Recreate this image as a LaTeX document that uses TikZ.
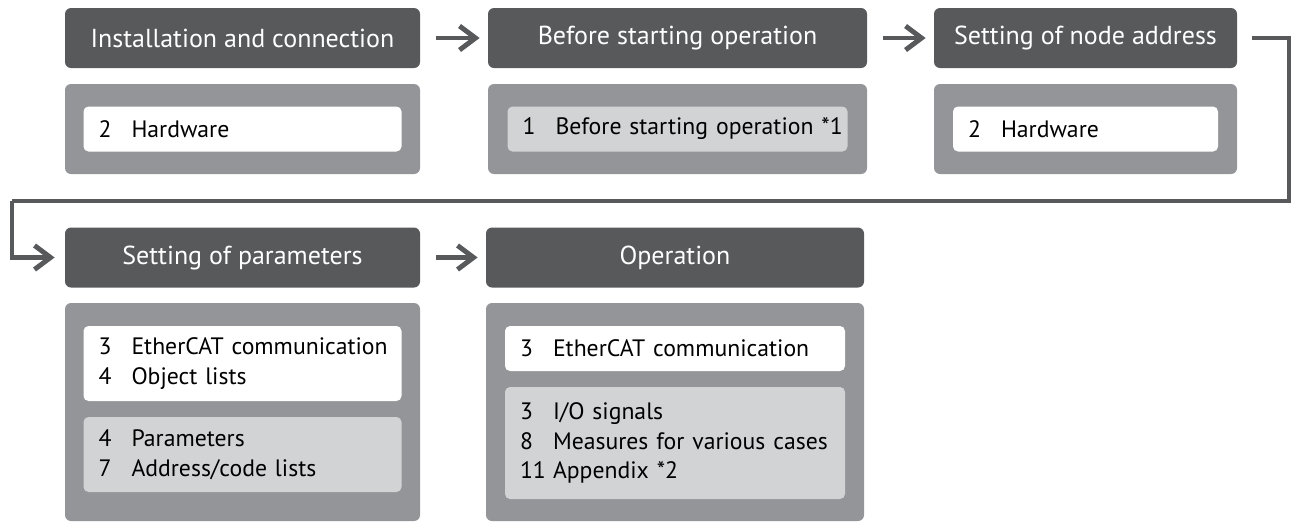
\documentclass[tikz,border=0pt]{standalone}
\usepackage{fontspec}
\setmainfont{PT Sans}
\usetikzlibrary{arrows.meta,positioning}
\definecolor{headgray}{HTML}{58595B}
\definecolor{boxgray}{HTML}{939598}
\definecolor{palegray}{HTML}{D1D3D4}
\tikzset{>/.tip={Straight Barb[length=3.2mm,width=4.8mm]}}
\tikzset{head/.style={fill=headgray,text=white,rounded corners=1.2mm,minimum height=1.2cm,font=\fontsize{14.8}{17}\selectfont}}
\tikzset{panel/.style={fill=boxgray,rounded corners=1.2mm}}
\tikzset{item/.style={rounded corners=1mm,minimum height=0.9cm,align=left,inner xsep=0.3cm,font=\fontsize{13.5}{17}\selectfont,text=black}}
\tikzset{flow/.style={->,draw=headgray,line width=2.8pt}}
\newcommand\chap[1]{\makebox[0.66cm][l]{#1}}

\begin{document}
\begin{tikzpicture}[node distance=2cm,on grid]
        \useasboundingbox (0,0) rectangle (25.86,-10.44);
        % top row
        \node(install)[head,minimum width=7.1cm] at (4.85,-0.76){Installation and connection};
        \node(before)[head,minimum width=7.58cm,right=8.7cm of install]{Before starting operation};
        \node(nodeadr)[head,minimum width=6.06cm,right=8.16cm of before]{Setting of node address};
        \node(installbox)[panel,minimum width=7.1cm,minimum height=1.8cm,below=1.82cm of install]{};
        \node(beforebox)[panel,minimum width=7.58cm,minimum height=1.8cm,below=1.82cm of before]{};
        \node(nodeadrbox)[panel,minimum width=6.06cm,minimum height=1.8cm,below=1.82cm of nodeadr]{};
        \node(hw1)[item,fill=white,text width=5.76cm] at (installbox){\chap{2}Hardware};
        \node(bso)[item,fill=palegray,text width=6.2cm] at (beforebox){\mbox{\chap{1}Before starting operation *1}};
        \node(hw2)[item,fill=white,text width=4.7cm] at (nodeadrbox){\chap{2}Hardware};
        % bottom row
        \node(params)[head,minimum width=7.1cm,below=4.39cm of install]{Setting of parameters};
        \node(oper)[head,minimum width=7.56cm,right=8.65cm of params]{Operation};
        \node(paramsbox)[panel,minimum width=7.1cm,minimum height=4.36cm,below=3.09cm of params]{};
        \node(operbox)[panel,minimum width=7.56cm,minimum height=4.36cm,below=3.09cm of oper]{};
        \node(commA)[item,fill=white,text width=5.76cm,minimum height=1.5cm,above=0.97cm of paramsbox]
          {\mbox{\chap{3}EtherCAT communication}\\\chap{4}Object lists};
        \node(paramlist)[item,fill=palegray,text width=5.76cm,minimum height=1.5cm,below=0.85cm of paramsbox]
          {\chap{4}Parameters\\\chap{7}Address/code lists};
        \node(commB)[item,fill=white,text width=6.2cm,above=1.27cm of operbox]{\chap{3}EtherCAT communication};
        \node(operlist)[item,fill=palegray,text width=6.2cm,minimum height=2.24cm,below=0.62cm of operbox]
          {\chap{3}I/O signals\\\chap{8}Measures for various cases\\\chap{11}Appendix *2};
        % arrows
        \coordinate(turnR) at (25.78,-4.02);
        \coordinate(turnL) at (0.24,-4.02);
        \draw[flow,shorten <=0.32cm,shorten >=0.16cm] (install) -- (before);
        \draw[flow,shorten <=0.32cm,shorten >=0.16cm] (before) -- (nodeadr);
        \draw[flow,shorten <=0.32cm,shorten >=0.16cm] (params) -- (oper);
        \draw[flow,-,line join=miter,shorten <=0.3cm] (nodeadr.east) -| (turnR) -- (turnL);
        \draw[flow,line join=miter,shorten >=0.2cm] (turnL) |- (params.west);
\end{tikzpicture}
\end{document}
